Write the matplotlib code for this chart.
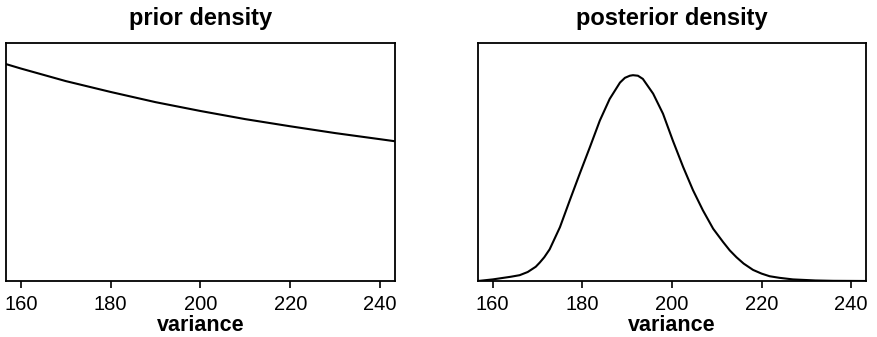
import matplotlib
matplotlib.use("Agg")
import matplotlib.pyplot as plt

# Prior density of the variance (relative units, x1000)
prior_variance = [156.7, 160, 170, 180, 190, 200, 210, 220, 230, 240, 243.3]
prior_density = [6.38, 6.25, 5.88, 5.56, 5.26, 5.00, 4.76, 4.55, 4.35, 4.17, 4.11]

# Posterior density of the variance
post_variance = [156.7, 160.0, 164.0, 166.0, 167.8, 169.6, 170.5, 171.5, 172.7,
                 175.0, 177.2, 179.4, 181.7, 183.9, 186.1, 188.4, 189.5, 190.6,
                 191.3, 192.4, 193.5, 195.8, 198.0, 200.2, 202.5, 204.7, 206.9,
                 209.2, 211.4, 212.9, 214.4, 216.0, 218.1, 220.0, 221.8, 224.0,
                 227.0, 232.0, 236.0, 243.3]
post_density = [0.0000, 0.0003, 0.0008, 0.0011, 0.0017, 0.0027, 0.0035, 0.0045, 0.0060,
                0.0102, 0.0153, 0.0203, 0.0254, 0.0304, 0.0345, 0.0376, 0.0385, 0.0389,
                0.0390, 0.0389, 0.0383, 0.0355, 0.0317, 0.0266, 0.0216, 0.0172, 0.0134,
                0.0099, 0.0074, 0.0058, 0.0045, 0.0033, 0.0021, 0.0014, 0.0009, 0.0006,
                0.0003, 0.0001, 0.00003, 0.0000]

x_ticks = [160, 180, 200, 220, 240]
x_range = (156.7, 243.3)

plt.rcParams['font.family'] = ['Liberation Sans', 'DejaVu Sans']

fig = plt.figure(figsize=(8.77, 3.37), dpi=100)
ax_prior = fig.add_axes([0.0068, 0.1662, 0.4436, 0.7062])
ax_post = fig.add_axes([0.5450, 0.1662, 0.4424, 0.7062])

panels = [
    (ax_prior, prior_variance, prior_density, "prior density", (0, 7.0)),
    (ax_post, post_variance, post_density, "posterior density", (0, 0.0451)),
]

for ax, xs, ys, title, ylim in panels:
    ax.plot(xs, ys, color="black", lw=1.5, solid_joinstyle="round")
    ax.set_xlim(*x_range)
    ax.set_ylim(*ylim)
    ax.set_xticks(x_ticks)
    ax.set_xticklabels([str(t) for t in x_ticks])
    ax.set_yticks([])
    ax.tick_params(axis="x", direction="out", length=5, width=1.2, pad=5,
                   labelsize=14.5, colors="black")
    for spine in ax.spines.values():
        spine.set_linewidth(1.3)
        spine.set_color("black")
    ax.set_title(title, fontsize=17, fontweight="bold", pad=13)
    ax.set_xlabel("variance", fontsize=15.5, fontweight="bold", labelpad=1)

fig.savefig("out.png", dpi=100)
